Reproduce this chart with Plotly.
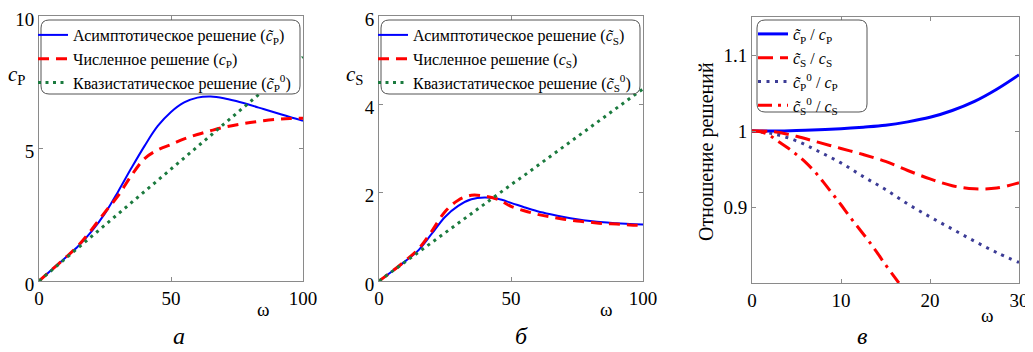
import plotly.graph_objects as go

# window is 1033x352; the page body has an 8px margin, so the figure is shifted by OFF
OFF = 8
W, H = 1033 - OFF, 352 - OFF
FONT = "Liberation Serif"

# ---------- data ----------
omega_ab = [0, 5, 10, 15, 20, 25, 30, 35, 40, 45, 50, 55, 60, 65, 70, 75, 80, 85, 90, 95, 100]
cP_asym = [0, 0.44, 0.88, 1.33, 1.88, 2.55, 3.38, 4.26, 5.1, 5.85, 6.38, 6.74, 6.92, 6.96, 6.9, 6.78, 6.64, 6.49, 6.34, 6.19, 6.05]
cP_num = [0, 0.44, 0.88, 1.35, 1.95, 2.6, 3.22, 3.98, 4.62, 4.95, 5.15, 5.36, 5.53, 5.67, 5.8, 5.9, 5.98, 6.05, 6.1, 6.13, 6.14]
cP_qs = [0, 0.42, 0.85, 1.27, 1.69, 2.11, 2.54, 2.96, 3.38, 3.8, 4.23, 4.65, 5.07, 5.49, 5.92, 6.34, 6.76, 7.18, 7.61, 8.03, 8.45]

cS_asym = [0, 0.22, 0.45, 0.7, 1.07, 1.45, 1.7, 1.85, 1.89, 1.86, 1.77, 1.67, 1.58, 1.51, 1.45, 1.4, 1.36, 1.33, 1.31, 1.29, 1.28]
cS_num = [0, 0.22, 0.46, 0.73, 1.13, 1.57, 1.83, 1.94, 1.92, 1.85, 1.69, 1.59, 1.51, 1.45, 1.4, 1.36, 1.33, 1.3, 1.29, 1.27, 1.26]
cS_qs = [0, 0.22, 0.44, 0.65, 0.87, 1.09, 1.31, 1.52, 1.74, 1.96, 2.18, 2.39, 2.61, 2.83, 3.05, 3.26, 3.48, 3.7, 3.92, 4.13, 4.35]

omega_c = [0, 2.5, 5, 7.5, 10, 12.5, 15, 17.5, 20, 22.5, 25, 27.5, 30]
r_P_asym = [1.0, 1.0, 1.0005, 1.0015, 1.003, 1.005, 1.0075, 1.012, 1.018, 1.027, 1.039, 1.055, 1.074]
r_S_asym = [1.0, 0.999, 0.993, 0.985, 0.977, 0.969, 0.96, 0.948, 0.937, 0.928, 0.924, 0.925, 0.932]
r_P_qs = [1.0, 0.996, 0.987, 0.973, 0.958, 0.94, 0.923, 0.904, 0.887, 0.871, 0.855, 0.84, 0.827]
omega_c2 = [0, 1, 2, 3, 4, 5, 6, 7, 8, 9, 10, 11, 12, 13, 14, 15, 16, 16.5]
r_S_qs = [1.0, 0.999, 0.994, 0.986, 0.978, 0.969, 0.959, 0.947, 0.933, 0.918, 0.903, 0.887, 0.872, 0.857, 0.841, 0.824, 0.808, 0.80]

xticks_ab = [0, 50, 100]
yticks_a = [0, 5, 10]
yticks_b = [0, 2, 4, 6]
xticks_c = [0, 10, 20, 30]
yticks_c = [0.9, 1.0, 1.1]
yticklabels_c = ["0.9", "1", "1.1"]

# ---------- styles ----------
BLUE = "#0000ff"
RED = "#ff0000"
GREEN = "#1b7a3e"
PURPLE = "#3c3c96"
AX = "#8a8a8a"


def px2x(px):
    return (px - OFF) / W


def px2y(py):
    return 1 - (py - OFF) / H


fig = go.Figure()

legA = dict(legend="legend")
legB = dict(legend="legend2")
legC = dict(legend="legend3")

# Panel a
fig.add_trace(go.Scatter(x=omega_ab, y=cP_asym, mode="lines", line=dict(color=BLUE, width=2, shape="spline"),
                         name="Асимптотическое решение (<i>c̃</i><sub>P</sub>)", xaxis="x", yaxis="y", **legA))
fig.add_trace(go.Scatter(x=omega_ab, y=cP_num, mode="lines", line=dict(color=RED, width=3, shape="spline", dash="11px,7px"),
                         name="Численное решение (<i>c</i><sub>P</sub>)", xaxis="x", yaxis="y", **legA))
fig.add_trace(go.Scatter(x=omega_ab, y=cP_qs, mode="lines", line=dict(color=GREEN, width=3, dash="3px,4.5px"),
                         name="Квазистатическое решение (<i>c̃</i><sub>P</sub><sup>0</sup>)", xaxis="x", yaxis="y", **legA))
# Panel б
fig.add_trace(go.Scatter(x=omega_ab, y=cS_asym, mode="lines", line=dict(color=BLUE, width=2, shape="spline"),
                         name="Асимптотическое решение (<i>c̃</i><sub>S</sub>)", xaxis="x2", yaxis="y2", **legB))
fig.add_trace(go.Scatter(x=omega_ab, y=cS_num, mode="lines", line=dict(color=RED, width=3, shape="spline", dash="11px,7px"),
                         name="Численное решение (<i>c</i><sub>S</sub>)", xaxis="x2", yaxis="y2", **legB))
fig.add_trace(go.Scatter(x=omega_ab, y=cS_qs, mode="lines", line=dict(color=GREEN, width=3, dash="3px,4.5px"),
                         name="Квазистатическое решение (<i>c̃</i><sub>S</sub><sup>0</sup>)", xaxis="x2", yaxis="y2", **legB))
# Panel в
fig.add_trace(go.Scatter(x=omega_c, y=r_P_asym, mode="lines", line=dict(color=BLUE, width=3, shape="spline"),
                         name="<i>c̃</i><sub>P</sub> / <i>c</i><sub>P</sub>", xaxis="x3", yaxis="y3", **legC))
fig.add_trace(go.Scatter(x=omega_c, y=r_S_asym, mode="lines", line=dict(color=RED, width=3, shape="spline", dash="15px,7px"),
                         name="<i>c̃</i><sub>S</sub> / <i>c</i><sub>S</sub>", xaxis="x3", yaxis="y3", **legC))
fig.add_trace(go.Scatter(x=omega_c, y=r_P_qs, mode="lines", line=dict(color=PURPLE, width=3, shape="spline", dash="3px,5.5px"),
                         name="<i>c̃</i><sub>P</sub><sup>0</sup> / <i>c</i><sub>P</sub>", xaxis="x3", yaxis="y3", **legC))
fig.add_trace(go.Scatter(x=omega_c2, y=r_S_qs, mode="lines", line=dict(color=RED, width=3, shape="spline", dash="14px,6px,3px,6px"),
                         name="<i>c̃</i><sub>S</sub><sup>0</sup> / <i>c</i><sub>S</sub>", xaxis="x3", yaxis="y3", **legC))

axis_common = dict(showline=True, linecolor=AX, linewidth=1, mirror="ticks", ticks="inside", ticklen=4,
                   tickcolor=AX, showgrid=False, zeroline=False, automargin=False, ticklabeloverflow="allow",
                   tickfont=dict(family=FONT, size=19, color="#000"))

ydomA = [px2y(281), px2y(16)]
ydomC = [px2y(283), px2y(17)]

fig.update_layout(
    template="none",
    width=W, height=H, margin=dict(l=0, r=0, t=0, b=0, pad=0, autoexpand=False),
    paper_bgcolor="white", plot_bgcolor="white",
    font=dict(family=FONT, color="#000"),
    xaxis=dict(domain=[px2x(39), px2x(303)], range=[0, 100], tickvals=xticks_ab, anchor="y", **axis_common),
    yaxis=dict(domain=ydomA, range=[0, 10], tickvals=yticks_a, anchor="x", ticklabelshift=3, **axis_common),
    xaxis2=dict(domain=[px2x(379), px2x(643)], range=[0, 100], tickvals=xticks_ab, anchor="y2", **axis_common),
    yaxis2=dict(domain=ydomA, range=[0, 6], tickvals=yticks_b, anchor="x2", ticklabelshift=3, **axis_common),
    xaxis3=dict(domain=[px2x(752), px2x(1019)], range=[0, 30], tickvals=xticks_c, anchor="y3", **axis_common),
    yaxis3=dict(domain=ydomC, range=[0.8, 1.15], tickvals=yticks_c, ticktext=yticklabels_c, anchor="x3", **axis_common),
    showlegend=True,
)

leg_common = dict(bgcolor="rgba(0,0,0,0)", borderwidth=0, xanchor="left", yanchor="top",
                  font=dict(family=FONT, size=16, color="#000"), itemwidth=30, tracegroupgap=0)
fig.update_layout(
    legend=dict(x=px2x(33), y=px2y(18), **leg_common),
    legend2=dict(x=px2x(373), y=px2y(18), **leg_common),
    legend3=dict(x=px2x(753), y=px2y(17), **leg_common),
)


def rounded_rect(x0p, y0p, x1p, y1p, r=8):
    X0, X1 = px2x(x0p), px2x(x1p)
    Y0, Y1 = px2y(y1p), px2y(y0p)  # Y0 bottom, Y1 top (paper)
    rx, ry = r / W, r / H
    return (f"M {X0+rx},{Y1} L {X1-rx},{Y1} Q {X1},{Y1} {X1},{Y1-ry} "
            f"L {X1},{Y0+ry} Q {X1},{Y0} {X1-rx},{Y0} L {X0+rx},{Y0} "
            f"Q {X0},{Y0} {X0},{Y0+ry} L {X0},{Y1-ry} Q {X0},{Y1} {X0+rx},{Y1} Z")


shapes = []
for box in [(41, 20, 300, 94), (381, 20, 640, 94), (757, 20, 867, 112)]:
    shapes.append(dict(type="path", xref="paper", yref="paper", path=rounded_rect(*box),
                       fillcolor="white", line=dict(color="#555", width=1), layer="above"))
fig.update_layout(shapes=shapes)

ann = []


def txt(xp, yp, text, size=20, angle=0):
    ann.append(dict(x=px2x(xp), y=px2y(yp), xref="paper", yref="paper", text=text, showarrow=False,
                    font=dict(family=FONT, size=size, color="#000"), textangle=angle,
                    xanchor="center", yanchor="middle"))


txt(17, 75, "<i>c</i><sub>P</sub>", 21)
txt(355, 75, "<i>c</i><sub>S</sub>", 21)
txt(263, 309, "ω", 19)
txt(606, 309, "ω", 19)
txt(987, 315, "ω", 19)
txt(179, 336, "<i>а</i>", 24)
txt(521, 336, "<i>б</i>", 24)
txt(862, 336, "<i>в</i>", 24)
txt(706, 152, "Отношение решений", 20, -90)
fig.update_layout(annotations=ann)

fig.write_html("out.html")
